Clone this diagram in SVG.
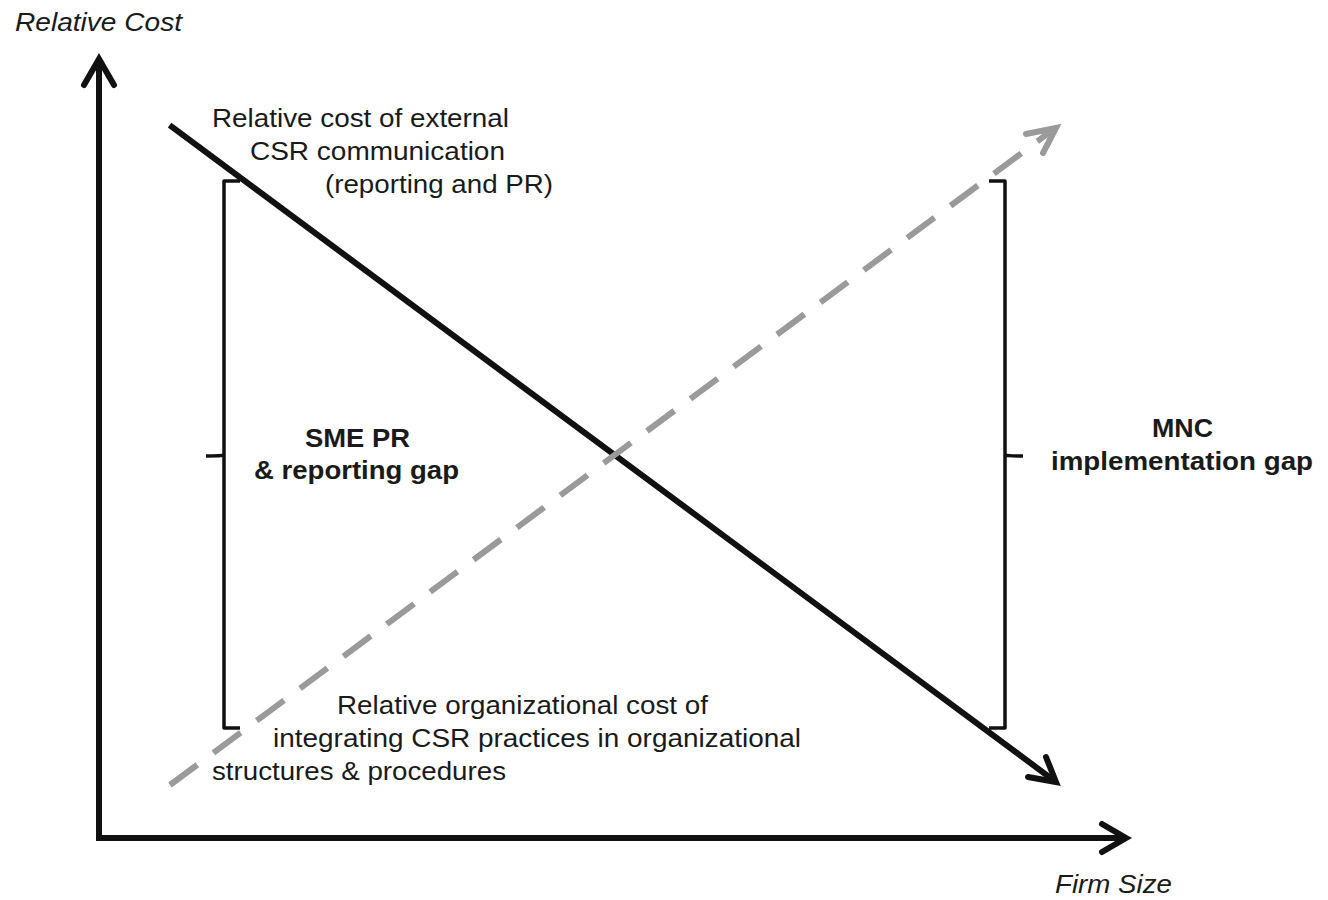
<svg xmlns="http://www.w3.org/2000/svg" width="1328" height="900" viewBox="0 0 1328 900">
<style>
text{font-family:"Liberation Sans",Arial,sans-serif;font-size:26px;fill:#1a1a1a}
.it{font-style:italic}
.b{font-weight:bold}
.ax{stroke:#111;stroke-width:6;fill:none;stroke-linecap:square;stroke-linejoin:miter}
.head{stroke:#111;stroke-width:6;fill:none;stroke-linecap:round;stroke-linejoin:miter}
.gr{stroke:#9a9a9a;stroke-width:6;fill:none}
.brk{stroke:#111;stroke-width:3.5;fill:none;stroke-linejoin:round}
</style>
<rect width="1328" height="900" fill="#fff"/>
<g id="axes">
<path class="ax" d="M99,838 V62 M99,838 H1122"/>
<path class="head" d="M84,85 L99,59 L114,85"/>
<path class="head" d="M1102,824 L1126,838 L1102,852"/>
</g>
<g id="connectors">
<g id="external-cost">
<path class="ax" d="M172,127 L1052,779" stroke-linecap="butt"/>
<path class="head" d="M1028,777 L1056,782 L1046,757"/>
</g>
<g id="organizational-cost">
<path class="gr" d="M170,785 L1050,132" stroke-dasharray="34 20"/>
<path class="gr" d="M1026,134 L1056,128 L1043,153" stroke-linecap="round" stroke-linejoin="miter"/>
</g>
</g>
<g id="sme-bracket">
<path class="brk" d="M240,181 H224 V728 H240 M224,455 Q222,456 206,456"/>
</g>
<g id="mnc-bracket">
<path class="brk" d="M989,181 H1005 V728 H989 M1005,455 Q1007,456 1023,456"/>
</g>
<g id="labels">
<text class="it" x="15" y="31" textLength="167" lengthAdjust="spacingAndGlyphs">Relative Cost</text>
<text class="it" x="1055" y="893" textLength="117" lengthAdjust="spacingAndGlyphs">Firm Size</text>
</g>
<g id="external-label">
<text x="212" y="127" textLength="297" lengthAdjust="spacingAndGlyphs">Relative cost of external</text>
<text x="250" y="160" textLength="255" lengthAdjust="spacingAndGlyphs">CSR communication</text>
<text x="325" y="193" textLength="228" lengthAdjust="spacingAndGlyphs">(reporting and PR)</text>
</g>
<g id="sme-gap">
<text class="b" x="305" y="447" textLength="105" lengthAdjust="spacingAndGlyphs">SME PR</text>
<text class="b" x="254" y="479" textLength="205" lengthAdjust="spacingAndGlyphs">&amp; reporting gap</text>
</g>
<g id="mnc-gap">
<text class="b" x="1152" y="437" textLength="61" lengthAdjust="spacingAndGlyphs">MNC</text>
<text class="b" x="1051" y="470" textLength="262" lengthAdjust="spacingAndGlyphs">implementation gap</text>
</g>
<g id="organizational-label">
<text x="337" y="714" textLength="371" lengthAdjust="spacingAndGlyphs">Relative organizational cost of</text>
<text x="273" y="747" textLength="528" lengthAdjust="spacingAndGlyphs">integrating CSR practices in organizational</text>
<text x="212" y="780" textLength="294" lengthAdjust="spacingAndGlyphs">structures &amp; procedures</text>
</g>
</svg>
